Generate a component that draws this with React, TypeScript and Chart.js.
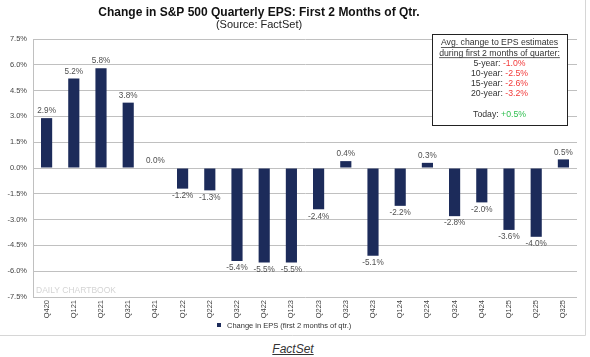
import React, { useEffect, useRef } from "react";
import { Chart, registerables } from "chart.js";
Chart.register(...registerables);

const categories = ["Q420","Q121","Q221","Q321","Q421","Q122","Q222","Q322","Q422","Q123","Q223","Q323","Q423","Q124","Q224","Q324","Q424","Q125","Q225","Q325"];
const epsChange = [2.9,5.2,5.8,3.8,0.0,-1.2,-1.3,-5.4,-5.5,-5.5,-2.4,0.4,-5.1,-2.2,0.3,-2.8,-2.0,-3.6,-4.0,0.5];
const yMin = -7.5;
const yMax = 7.5;
const yStep = 1.5;
const avgPeriods = ["5-year","10-year","15-year","20-year"];
const avgChanges = [-1.0,-2.5,-2.6,-3.2];
const todayChange = 0.5;
const titleText = "Change in S&P 500 Quarterly EPS: First 2 Months of Qtr.";
const subtitleText = "(Source: FactSet)";
const seriesLabel = "Change in EPS (first 2 months of qtr.)";

const BAR = "#1c2b5a";
const FONT = "'Liberation Sans', Arial, sans-serif";

const fmt = (v: number) => {
  const r = Math.round(v * 10) / 10;
  return (Math.abs(r) < 1e-9 ? 0 : r).toFixed(1) + "%";
};

const decor = {
  id: "decor",
  beforeDatasetsDraw(chart: any) {
    const ctx = chart.ctx;
    const a = chart.chartArea;
    ctx.save();
    ctx.fillStyle = "#d4d4d4";
    ctx.font = `8.5px ${FONT}`;
    ctx.textAlign = "left";
    ctx.textBaseline = "middle";
    ctx.fillText("DAILY CHARTBOOK", a.left + 3, a.bottom - 6);
    ctx.restore();
  },
  afterDatasetsDraw(chart: any) {
    const ctx = chart.ctx;
    const meta = chart.getDatasetMeta(0);
    ctx.save();
    ctx.font = `8.2px ${FONT}`;
    ctx.fillStyle = "#505050";
    ctx.textAlign = "center";
    ctx.textBaseline = "middle";
    meta.data.forEach((el: any, i: number) => {
      const v = epsChange[i];
      const y = v >= 0 ? el.y - 7 : el.y + 7;
      ctx.fillText(fmt(v), el.x, y);
    });
    ctx.restore();
  },
  afterDraw(chart: any) {
    const ctx = chart.ctx;
    const W = chart.width;
    const H = chart.height;
    ctx.save();
    ctx.fillStyle = "#111";
    ctx.textAlign = "center";
    ctx.textBaseline = "middle";
    ctx.font = `bold 12px ${FONT}`;
    ctx.fillText(titleText, 259, 13);
    ctx.fillStyle = "#222";
    ctx.font = `11px ${FONT}`;
    ctx.fillText(subtitleText, 259, 25);

    const bx = 432, by = 34, bw = 135, bh = 91;
    ctx.fillStyle = "#fff";
    ctx.fillRect(bx, by, bw, bh);
    ctx.strokeStyle = "#222";
    ctx.lineWidth = 1;
    ctx.strokeRect(bx + 0.5, by + 0.5, bw, bh);
    const cx = bx + bw / 2;
    ctx.font = `8.7px ${FONT}`;
    ctx.fillStyle = "#333";
    const head = ["Avg. change to EPS estimates", "during first 2 months of quarter:"];
    head.forEach((t, i) => {
      const y = 43 + i * 10.3;
      ctx.textAlign = "center";
      ctx.fillText(t, cx, y);
      const w = ctx.measureText(t).width;
      ctx.fillRect(cx - w / 2, y + 4, w, 0.8);
    });
    const twoPart = (a: string, b: string, col: string, y: number) => {
      const wa = ctx.measureText(a).width;
      const wb = ctx.measureText(b).width;
      const x0 = cx - (wa + wb) / 2;
      ctx.textAlign = "left";
      ctx.fillStyle = "#333";
      ctx.fillText(a, x0, y);
      ctx.fillStyle = col;
      ctx.fillText(b, x0 + wa, y);
    };
    avgPeriods.forEach((p, i) => {
      twoPart(p + ": ", fmt(avgChanges[i]), "#f23a3a", 63.3 + i * 10.2);
    });
    twoPart("Today: ", "+" + fmt(todayChange), "#2fbf4f", 114.5);

    ctx.font = `7.5px ${FONT}`;
    ctx.fillStyle = BAR;
    ctx.fillRect(217, 323, 4, 4);
    ctx.fillStyle = "#333";
    ctx.textAlign = "left";
    ctx.fillText(seriesLabel, 227, 325.5);

    ctx.strokeStyle = "#d6d6d6";
    ctx.beginPath();
    ctx.moveTo(W - 0.5, 0);
    ctx.lineTo(W - 0.5, H - 0.5);
    ctx.lineTo(0, H - 0.5);
    ctx.stroke();
    ctx.restore();
  },
};

export default function App() {
  const ref = useRef<HTMLCanvasElement>(null);
  useEffect(() => {
    if (!ref.current) return;
    const chart = new Chart(ref.current, {
      type: "bar",
      data: {
        labels: categories,
        datasets: [
          {
            label: seriesLabel,
            data: epsChange,
            backgroundColor: BAR,
            categoryPercentage: 1,
            barPercentage: 0.41,
          },
        ],
      },
      options: {
        animation: false,
        responsive: false,
        devicePixelRatio: 1,
        layout: { padding: { left: 0, right: 9, top: 39, bottom: 17 } },
        plugins: {
          legend: { display: false },
          title: { display: false },
          tooltip: { enabled: false },
        },
        scales: {
          x: {
            grid: { display: false, drawTicks: false },
            border: { display: false },
            ticks: {
              font: { family: FONT, size: 7.5 },
              color: "#444",
              minRotation: 90,
              maxRotation: 90,
              padding: 3,
            },
            afterFit: (s: any) => {
              s.height = 22;
            },
          },
          y: {
            min: yMin,
            max: yMax,
            grid: { color: "#c0c0c0", lineWidth: 1, drawTicks: false },
            border: { display: true, color: "#c0c0c0" },
            ticks: {
              stepSize: yStep,
              font: { family: FONT, size: 7.5 },
              color: "#444",
              padding: 6,
              callback: (v: any) => fmt(Number(v)),
            },
            afterFit: (s: any) => {
              s.width = 33;
            },
          },
        },
      },
      plugins: [decor],
    });
    return () => chart.destroy();
  }, []);
  return (
    <div style={{ position: "fixed", left: 0, top: 0, width: 590, height: 357, background: "#fff" }}>
      <canvas ref={ref} width={586} height={336} style={{ display: "block" }} />
      <div
        style={{
          position: "absolute",
          top: 342,
          left: 0,
          width: 586,
          textAlign: "center",
          fontFamily: FONT,
          fontStyle: "italic",
          textDecoration: "underline",
          fontSize: 12,
          color: "#333",
        }}
      >
        FactSet
      </div>
    </div>
  );
}
